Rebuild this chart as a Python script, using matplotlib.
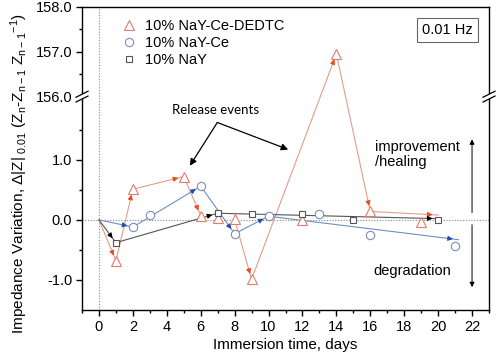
import numpy as np
import matplotlib
matplotlib.use("Agg")
import matplotlib.pyplot as plt
from matplotlib.lines import Line2D
from matplotlib.ticker import FixedLocator, FormatStrFormatter, MultipleLocator

plt.rcParams['font.family'] = ['Liberation Sans', 'DejaVu Sans']
plt.rcParams['mathtext.default'] = 'regular'

# 10% NaY-Ce-DEDTC (triangles)
red_days = [1, 2, 5, 6, 7, 8, 9, 12, 14, 16, 19]
red_vals = [-0.68, 0.51, 0.72, 0.07, 0.03, 0.01, -0.99, -0.01, 156.95, 0.14, -0.03]
# trend arrows for NaY-Ce-DEDTC (two separate runs)
red_path1_days = [0, 1, 2, 5, 6]
red_path1_vals = [0.0, -0.68, 0.51, 0.72, 0.07]
red_path2_days = [8, 9, 14, 16, 20]
red_path2_vals = [0.01, -0.99, 156.95, 0.14, 0.08]

# 10% NaY-Ce (circles)
blue_days = [2, 3, 6, 8, 10, 13, 16, 21]
blue_vals = [-0.12, 0.08, 0.56, -0.23, 0.06, 0.10, -0.25, -0.43]
blue_path_days = [0, 2, 6, 8, 10, 21.2]
blue_path_vals = [0.0, -0.12, 0.56, -0.23, 0.06, -0.33]

# 10% NaY (squares)
black_days = [1, 7, 9, 12, 15, 20]
black_vals = [-0.38, 0.11, 0.10, 0.10, 0.0, 0.0]
black_path_days = [0, 1, 7, 20]
black_path_vals = [0.0, -0.38, 0.11, 0.02]

labels = ['10% NaY-Ce-DEDTC', '10% NaY-Ce', '10% NaY']

# broken y axis: lower part continuous up to BRK, upper part starts at TOP0
BRK = 2.05
TOP0 = 156.0
K = 0.745
G = (TOP0 - BRK) * 1e-5


def fwd(y):
    y = np.asarray(y, dtype=float)
    return np.where(y <= BRK, y,
                    np.where(y >= TOP0, BRK + G + (y - TOP0) * K, BRK + (y - BRK) * 1e-5))


def inv(t):
    t = np.asarray(t, dtype=float)
    return np.where(t <= BRK, t,
                    np.where(t >= BRK + G, TOP0 + (t - BRK - G) / K, BRK + (t - BRK) / 1e-5))


fig = plt.figure(figsize=(5, 3.6), dpi=100)
ax = fig.add_axes([82 / 500, 50 / 360, 407 / 500, 303 / 360])
ax.set_yscale('function', functions=(fwd, inv))
ax.set_xlim(-1, 23)
ax.set_ylim(-1.5, 158)

ax.axhline(0, color='#888888', lw=0.8, ls=(0, (1, 1.5)), zorder=1)
ax.axvline(0, color='#888888', lw=0.8, ls=(0, (1, 1.5)), zorder=1)

series = [
    # marker x, marker y, marker, marker colour, paths, line colour, head colour, size
    (red_days, red_vals, '^', '#e07c6a',
     [(red_path1_days, red_path1_vals), (red_path2_days, red_path2_vals)],
     '#e59c8c', '#ee4a1c', 6.5),
    (blue_days, blue_vals, 'o', '#7d8dbb',
     [(blue_path_days, blue_path_vals)], '#6f8dc2', '#1d50ad', 6),
    (black_days, black_vals, 's', '#555555',
     [(black_path_days, black_path_vals)], '#555555', '#000000', 5),
]

fig.canvas.draw()
for xs, ys, mk, mcol, paths, lcol, hcol, ms in series:
    for px, py in paths:
        ax.plot(px, py, color=lcol, lw=0.8, zorder=2)
        for i in range(1, len(px)):
            p0 = ax.transData.transform((px[i - 1], py[i - 1]))
            p1 = ax.transData.transform((px[i], py[i]))
            d = p1 - p0
            d = d / np.hypot(*d)
            back = -d * 8 * 0.72
            ax.annotate('', xy=(px[i], py[i]), xycoords='data',
                        xytext=(back[0], back[1]), textcoords='offset points',
                        arrowprops=dict(arrowstyle='-|>', color=hcol, lw=0.8,
                                        shrinkA=0, shrinkB=4, mutation_scale=7),
                        zorder=3)
    ax.plot(xs, ys, ls='none', marker=mk, ms=ms, mfc='white', mec=mcol,
            mew=0.8, zorder=4)

handles = [Line2D([], [], ls='none', marker=s[2], ms=s[7], mfc='white',
                  mec=s[3], mew=0.8) for s in series]
ax.legend(handles, labels, loc='upper left', bbox_to_anchor=(0.075, 0.985),
          frameon=False, fontsize=10.5, handlelength=1.2, handletextpad=0.55,
          labelspacing=0.2, borderpad=0)

# release events annotation
ax.text(6.9, 1.83, 'Release events', family=['Lato', 'DejaVu Sans'],
        fontsize=9.5, ha='center', va='center')
for tx, ty in [(5.36, 0.9), (11.16, 1.17)]:
    ax.annotate('', xy=(tx, ty), xytext=(6.98, 1.62),
                arrowprops=dict(arrowstyle='-|>', color='black', lw=0.9,
                                shrinkA=0, shrinkB=0, mutation_scale=10))

# improvement / degradation arrows
ax.annotate('', xy=(22, 1.34), xytext=(22, 0.12),
            arrowprops=dict(arrowstyle='-|>', color='black', lw=0.7,
                            shrinkA=0, shrinkB=0, mutation_scale=7))
ax.annotate('', xy=(22, -1.12), xytext=(22, -0.08),
            arrowprops=dict(arrowstyle='-|>', color='black', lw=0.7,
                            shrinkA=0, shrinkB=0, mutation_scale=7))
ax.text(16.3, 1.08, 'improvement\n/healing', fontsize=10.5, ha='left',
        va='center', linespacing=1.1)
ax.text(16.2, -0.85, 'degradation', fontsize=10.5, ha='left', va='center')

ax.text(0.897, 0.924, '0.01 Hz', transform=ax.transAxes, fontsize=10.5,
        ha='center', va='center',
        bbox=dict(boxstyle='square,pad=0.35', fc='white', ec='#666666', lw=0.8))

# ticks
ax.yaxis.set_major_locator(FixedLocator([-1, 0, 1, 156, 157, 158]))
ax.yaxis.set_minor_locator(FixedLocator([-0.5, 0.5, 1.5, 156.5, 157.5]))
ax.yaxis.set_major_formatter(FormatStrFormatter('%.1f'))
ax.xaxis.set_major_locator(MultipleLocator(2))
ax.xaxis.set_minor_locator(MultipleLocator(1))
ax.tick_params(which='both', direction='out', width=1, labelsize=10.5,
               top=False, right=False)
ax.tick_params(which='major', length=4, pad=3)
ax.tick_params(which='minor', length=2.5)
for sp in ax.spines.values():
    sp.set_linewidth(1.0)

ax.set_xlabel('Immersion time, days', fontsize=11, labelpad=3)
ax.set_ylabel(r'Impedance Variation, $\Delta$|Z|$_{\ 0.01}$ (Z$_n$-Z$_{n-1}$ Z$_{n-1}$$^{-1}$)',
              fontsize=11.1)
ax.yaxis.set_label_coords(-0.128, 0.449)

# axis break marks on both spines
yb = (BRK - (-1.5)) / (BRK + G + 2 * K + 1.5)
w = 6 / 407
h = 3 / 303
for xb in (0, 1):
    ax.add_patch(plt.Rectangle((xb - w, yb - h * 0.8), 2 * w, h * 1.6,
                               transform=ax.transAxes, fc='white', ec='none',
                               clip_on=False, zorder=5))
    for off in (-h * 0.8, h * 0.8):
        ax.plot([xb - w, xb + w], [yb + off - h, yb + off + h],
                transform=ax.transAxes, color='black', lw=0.9,
                clip_on=False, zorder=6)

fig.savefig('out.png', dpi=100)
